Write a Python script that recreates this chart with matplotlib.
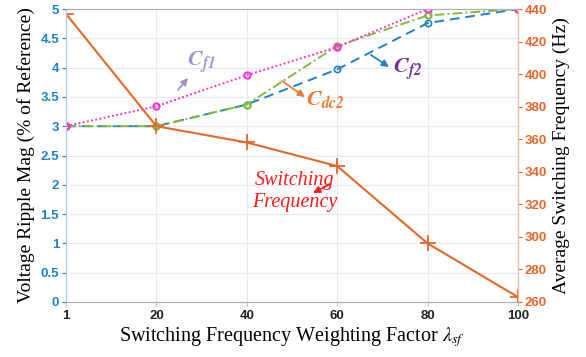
import matplotlib
matplotlib.use("Agg")
import matplotlib.pyplot as plt
import numpy as np

plt.rcParams["mathtext.fontset"] = "stix"

categories = ["1", "20", "40", "60", "80", "100"]
cf1 = [3.0, 3.34, 3.87, 4.35, 5.0, 5.0]
cf2 = [3.0, 3.0, 3.37, 3.97, 4.76, 5.0]
cdc2 = [3.0, 3.0, 3.37, 4.37, 4.89, 5.0]
fsw = [437, 368, 358, 343.5, 296, 263]

left_ticks = [0, 0.5, 1, 1.5, 2, 2.5, 3, 3.5, 4, 4.5, 5]
left_labels = ["0", "0.5", "1", "1.5", "2", "2.5", "3", "3.5", "4", "4.5", "5"]
right_ticks = [260, 280, 300, 320, 340, 360, 380, 400, 420, 440]

BLUE = "#1f80d0"
ORANGE = "#e8662a"
SERIF = "Liberation Serif"
SANS = "Liberation Sans"

fig = plt.figure(figsize=(5.86, 3.57), dpi=100)
ax = fig.add_axes([66/586, 1-302/357, (518-66)/586, (302-9)/357])
ax2 = ax.twinx()

x = np.arange(len(categories))

ax.plot(x, cf1, linestyle=(0, (1, 1.2)), color="#ff33cc", lw=1.4, marker="o",
        ms=4.5, mfc="none", mew=1.5, zorder=3)
ax.plot(x, cdc2, linestyle=(0, (5, 1.6, 1, 1.6)), color="#86b83a", lw=1.4, marker="o",
        ms=4.5, mfc="none", mew=1.5, zorder=2)
ax.plot(x, cf2, linestyle=(0, (5, 3)), color=BLUE, lw=1.4, marker="o",
        ms=4.5, mfc="none", mew=1.2, zorder=1)
ax2.plot(x, fsw, color=ORANGE, lw=1.5, marker="+", ms=12, mew=1.3)

ax.set_xlim(0, len(categories)-1)
ax.set_ylim(0, 5)
ax2.set_ylim(260, 440)
ax.set_xticks(x)
ax.set_xticklabels(categories, fontweight="bold", fontsize=9.5, color="#222222", family=SANS)
ax.set_yticks(left_ticks)
ax.set_yticklabels(left_labels, fontweight="bold", fontsize=9.5, color=BLUE, family=SANS)
ax2.set_yticks(right_ticks)
ax2.set_yticklabels([str(t) for t in right_ticks], fontweight="bold", fontsize=9.5,
                    color=ORANGE, family=SANS)

ax.grid(True, color="#e3ecf5", lw=0.8)
ax.set_axisbelow(True)
for a in (ax, ax2):
    a.spines["top"].set_color("#b0b0b0")
    a.spines["bottom"].set_color("#b0b0b0")
    a.spines["left"].set_color("#a9cdea")
    a.spines["right"].set_color("#f5b89a")
ax.tick_params(axis="y", colors=BLUE, length=3, labelcolor=BLUE, pad=2)
ax.tick_params(axis="x", length=3, color="#c0c0c0", pad=3)
ax2.tick_params(axis="y", colors=ORANGE, length=3, labelcolor=ORANGE, pad=2)

ax.set_ylabel("Voltage Ripple Mag (% of Reference)", family=SERIF, fontsize=14, labelpad=4)
ax2.set_ylabel("Average Switching Frequency (Hz)", family=SERIF, fontsize=14, labelpad=4)
ax.set_xlabel(r"Switching Frequency Weighting Factor $\mathit{\lambda}_{\mathit{sf}}$", family=SERIF,
              fontsize=14.5, labelpad=2)

def px(xp, yp):
    return (xp/586, 1-yp/357)

fig.text(*px(187, 63), r"$\mathbfit{C}_{\mathbfit{f1}}$", color="#a592c8", fontsize=16,
         ha="left", va="center")
fig.text(*px(393, 70), r"$\mathbfit{C}_{\mathbfit{f2}}$", color="#7030a0", fontsize=16,
         ha="left", va="center")
fig.text(*px(306, 100), r"$\mathbfit{C}_{\mathbfit{dc2}}$", color="#ee7a30", fontsize=16,
         ha="left", va="center")
fig.text(*px(295, 181), "Switching", color="#ff1a1a", fontsize=14.5, family=SERIF,
         style="italic", ha="center", va="center")
fig.text(*px(295, 202), "Frequency", color="#ff1a1a", fontsize=14.5, family=SERIF,
         style="italic", ha="center", va="center")

def arrow(x0, y0, x1, y1, color):
    fig.add_artist(matplotlib.patches.FancyArrowPatch(
        px(x0, y0), px(x1, y1), transform=fig.transFigure,
        arrowstyle="-|>,head_length=4,head_width=2", color=color, lw=1.3,
        mutation_scale=1, shrinkA=0, shrinkB=0))

arrow(178, 90, 188, 78, "#a592c8")
arrow(371, 55, 389, 67, BLUE)
arrow(282, 81, 305, 97, "#ee7a30")
arrow(330, 184, 313, 193, "#ff1a1a")

fig.savefig("out.png", dpi=100)
